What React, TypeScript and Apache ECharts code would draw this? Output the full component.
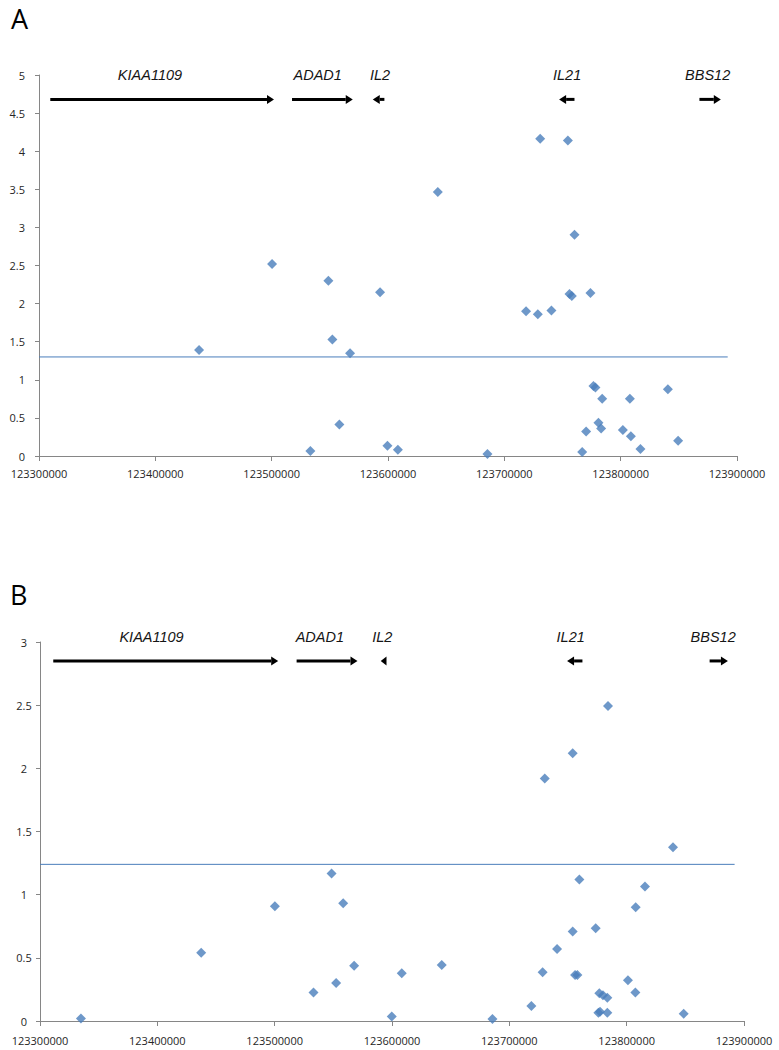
import React, { useEffect, useRef } from "react";
import * as echarts from "echarts";

// ---------- data ----------
const geneNames = ["KIAA1109", "ADAD1", "IL2", "IL21", "BBS12"];
// arrow tail -> tip (genomic position), panel A
const geneTailA = [123309700, 123517500, 123596900, 123760300, 123867700];
const geneTipA = [123502000, 123569700, 123586900, 123747100, 123886100];
const geneLabelA = [123395400, 123539600, 123593200, 123754000, 123874800];
// panel B
const geneTailB = [123311300, 123518700, 123595300, 123762300, 123870700];
const geneTipB = [123503000, 123570600, 123590400, 123749200, 123886300];
const geneLabelB = [123395100, 123538500, 123591700, 123752300, 123873700];

const posA = [
  123437600, 123500340, 123533300, 123548750, 123552200, 123558200, 123567400,
  123593200, 123599500, 123608500, 123642800, 123685500, 123718700, 123728800,
  123730800, 123740500, 123754600, 123756000, 123758000, 123760300, 123766900,
  123770300, 123774000, 123776600, 123778300, 123780900, 123783200, 123784100,
  123801900, 123807900, 123808800, 123817000, 123840600, 123849400,
];
const valA = [
  1.39, 2.52, 0.066, 2.3, 1.53, 0.415, 1.35,
  2.15, 0.135, 0.083, 3.465, 0.026, 1.9, 1.86,
  4.164, 1.91, 4.14, 2.126, 2.1, 2.905, 0.052,
  0.32, 2.14, 0.92, 0.9, 0.437, 0.36, 0.75,
  0.34, 0.75, 0.258, 0.092, 0.875, 0.2,
];

const posB = [
  123334900, 123437400, 123500200, 123533100, 123548500, 123552400, 123558400,
  123567700, 123599800, 123608300, 123642400, 123685600, 123718800, 123728400,
  123730200, 123740700, 123754000, 123754000, 123756000, 123758000, 123759700,
  123773600, 123775900, 123776700, 123777300, 123779800, 123783500, 123783500,
  123784100, 123801100, 123807400, 123807700, 123815600, 123839500, 123848600,
];
const valB = [
  0.02, 0.54, 0.908, 0.225, 1.167, 0.3, 0.932,
  0.438, 0.035, 0.378, 0.443, 0.016, 0.119, 0.386,
  1.92, 0.57, 2.12, 0.708, 0.364, 0.364, 1.12,
  0.734, 0.066, 0.219, 0.074, 0.203, 0.185, 0.066,
  2.494, 0.322, 0.225, 0.9, 1.064, 1.375, 0.058,
];

const thresholdA = 1.3;
const thresholdB = 1.24;
const thresholdEnd = 123892000;

const xMin = 123300000;
const xMax = 123900000;
const xStep = 100000;

// ---------- helpers ----------
const BLUE = "#4A7EBB";
const AXIS = "#868686";
const LABEL = "#262626";

function zip(a: number[], b: number[]) {
  return a.map((v, i) => [v, b[i]]);
}

function geneData(tail: number[], tip: number[], lab: number[], rowY: number, labY: number) {
  return tail.map((t, i) => [t, tip[i], rowY, lab[i], labY]);
}

function renderGene(params: any, api: any) {
  const tail = api.coord([api.value(0), api.value(2)]);
  const tip = api.coord([api.value(1), api.value(2)]);
  const lab = api.coord([api.value(3), api.value(4)]);
  const dir = tip[0] >= tail[0] ? 1 : -1;
  const len = Math.abs(tip[0] - tail[0]);
  const headLen = Math.min(7, len);
  const half = 4.5;
  const children: any[] = [];
  if (len > headLen) {
    children.push({
      type: "line",
      shape: { x1: tail[0], y1: tail[1], x2: tip[0] - dir * headLen, y2: tip[1] },
      style: { stroke: "#000", lineWidth: 3 },
    });
  }
  children.push({
    type: "polygon",
    shape: {
      points: [
        [tip[0], tip[1]],
        [tip[0] - dir * headLen, tip[1] - half],
        [tip[0] - dir * headLen, tip[1] + half],
      ],
    },
    style: { fill: "#000" },
  });
  children.push({
    type: "text",
    style: {
      text: geneNames[params.dataIndex],
      x: lab[0],
      y: lab[1],
      align: "center",
      verticalAlign: "middle",
      font: 'italic 14.5px "Liberation Sans"',
      fill: "#151515",
    },
  });
  return { type: "group", children };
}

function xAxis(gridIndex: number, margin: number) {
  return {
    type: "value",
    gridIndex,
    min: xMin,
    max: xMax,
    interval: xStep,
    splitLine: { show: false },
    axisLine: { show: true, lineStyle: { color: AXIS, width: 1 } },
    axisTick: { show: true, length: 5, lineStyle: { color: AXIS } },
    axisLabel: {
      margin,
      formatter: (v: number) => String(v),
      fontFamily: "Open Sans",
      fontSize: 11,
      color: LABEL,
      showMinLabel: true,
      showMaxLabel: true,
    },
  };
}

function yAxis(gridIndex: number, max: number, align: string, margin: number) {
  return {
    type: "value",
    gridIndex,
    min: 0,
    max,
    interval: 0.5,
    splitLine: { show: false },
    axisLine: { show: true, lineStyle: { color: AXIS, width: 1 } },
    axisTick: { show: true, length: 4, lineStyle: { color: AXIS } },
    axisLabel: {
      margin,
      align,
      formatter: (v: number) => String(v),
      fontFamily: "Open Sans",
      fontSize: 11,
      color: LABEL,
    },
  };
}

export default function App() {
  const ref = useRef<HTMLDivElement>(null);
  useEffect(() => {
    if (!ref.current) return;
    const chart = echarts.init(ref.current, undefined, { renderer: "svg" });
    chart.setOption({
      animation: false,
      backgroundColor: "#ffffff",
      grid: [
        { left: 39, top: 75, width: 698, height: 381 },
        { left: 40, top: 642, width: 704, height: 379 },
      ],
      xAxis: [xAxis(0, 12), xAxis(1, 14)],
      yAxis: [yAxis(0, 5, "right", 14), yAxis(1, 3, "center", 16)],
      graphic: [
        {
          type: "text",
          style: {
            text: "A",
            x: 11,
            y: 18,
            verticalAlign: "middle",
            font: '27px "Open Sans"',
            fill: "#000",
          },
        },
        {
          type: "text",
          style: {
            text: "B",
            x: 10,
            y: 594,
            verticalAlign: "middle",
            font: '27px "Open Sans"',
            fill: "#000",
          },
        },
      ],
      series: [
        {
          type: "line",
          xAxisIndex: 0,
          yAxisIndex: 0,
          data: [
            [xMin, thresholdA],
            [thresholdEnd, thresholdA],
          ],
          symbol: "none",
          lineStyle: { color: BLUE, width: 1 },
          silent: true,
          z: 1,
        },
        {
          type: "scatter",
          xAxisIndex: 0,
          yAxisIndex: 0,
          data: zip(posA, valA),
          symbol: "diamond",
          symbolSize: 10,
          itemStyle: { color: BLUE },
          z: 3,
        },
        {
          type: "custom",
          xAxisIndex: 0,
          yAxisIndex: 0,
          data: geneData(geneTailA, geneTipA, geneLabelA, 4.68, 5.0),
          renderItem: renderGene,
          encode: { x: [0, 1], y: 2 },
          clip: false,
          silent: true,
        },
        {
          type: "line",
          xAxisIndex: 1,
          yAxisIndex: 1,
          data: [
            [xMin, thresholdB],
            [thresholdEnd, thresholdB],
          ],
          symbol: "none",
          lineStyle: { color: BLUE, width: 1 },
          silent: true,
          z: 1,
        },
        {
          type: "scatter",
          xAxisIndex: 1,
          yAxisIndex: 1,
          data: zip(posB, valB),
          symbol: "diamond",
          symbolSize: 10,
          itemStyle: { color: BLUE },
          z: 3,
        },
        {
          type: "custom",
          xAxisIndex: 1,
          yAxisIndex: 1,
          data: geneData(geneTailB, geneTipB, geneLabelB, 2.85, 3.04),
          renderItem: renderGene,
          encode: { x: [0, 1], y: 2 },
          clip: false,
          silent: true,
        },
      ],
    });
    return () => chart.dispose();
  }, []);
  return (
    <div
      ref={ref}
      style={{ position: "absolute", left: 0, top: 0, width: 779, height: 1050 }}
    />
  );
}
